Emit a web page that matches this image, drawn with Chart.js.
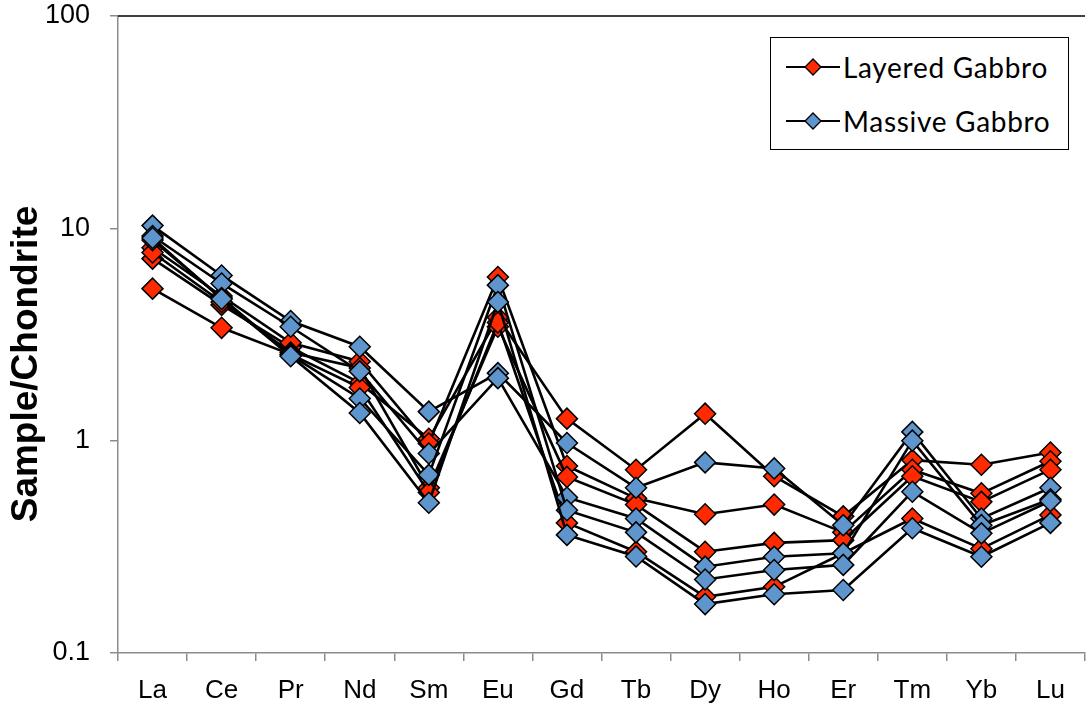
<!DOCTYPE html>
<html><head><meta charset="utf-8">
<script src="https://cdn.jsdelivr.net/npm/chart.js@4.4.1/dist/chart.umd.min.js"></script>
<style>
html,body{margin:0;padding:0;background:#fff;}
#wrap{position:relative;width:1091px;height:716px;}
#legend{position:absolute;left:770px;top:37px;width:299px;height:113px;border:1.5px solid #000;box-sizing:border-box;background:#fff;font-family:Lato,"Open Sans",sans-serif;font-size:28px;letter-spacing:0.7px;color:#000;}
.row{position:absolute;left:0;height:30px;line-height:30px;white-space:nowrap;}
.row svg{position:absolute;left:15px;top:5px;}
.row span{position:absolute;left:72px;top:0;}
</style></head>
<body>
<div id="wrap">
<canvas id="c" width="1091" height="716"></canvas>
<div id="legend">
  <div class="row" style="top:14px"><svg width="54" height="20"><line x1="0" y1="10" x2="54" y2="10" stroke="#000" stroke-width="2.2"/><polygon points="27,2 35,10 27,18 19,10" fill="#ff2a00" stroke="#000" stroke-width="1.3"/></svg><span>Layered Gabbro</span></div>
  <div class="row" style="top:68px"><svg width="54" height="20"><line x1="0" y1="10" x2="54" y2="10" stroke="#000" stroke-width="2.2"/><polygon points="27,2 35,10 27,18 19,10" fill="#5e95cc" stroke="#000" stroke-width="1.3"/></svg><span>Massive Gabbro</span></div>
</div>
</div>
<script>
const categories = ['La','Ce','Pr','Nd','Sm','Eu','Gd','Tb','Dy','Ho','Er','Tm','Yb','Lu'];
const yTickValues = [0.1, 1, 10, 100];

const layered1 = [7.2, 4.36, 2.75, 1.87, 1.02, 3.8, 1.27, 0.73, 1.34, 0.68, 0.44, 0.81, 0.77, 0.88];
const layered2 = [8.1, 4.8, 2.89, 2.36, 0.97, 5.9, 0.76, 0.535, 0.45, 0.50, 0.37, 0.73, 0.565, 0.80];
const layered3 = [7.7, 4.5, 2.6, 2.2, 0.60, 3.44, 0.675, 0.50, 0.30, 0.33, 0.34, 0.68, 0.515, 0.73];
const layered4 = [5.2, 3.4, 2.55, 1.78, 0.57, 3.6, 0.41, 0.30, 0.184, 0.205, 0.295, 0.43, 0.31, 0.447];

const massive1 = [10.3, 6.0, 3.66, 2.77, 1.37, 2.08, 0.975, 0.60, 0.79, 0.74, 0.40, 1.10, 0.43, 0.60];
const massive2 = [9.2, 5.5, 3.44, 2.12, 0.87, 1.97, 0.54, 0.43, 0.255, 0.284, 0.295, 1.0, 0.40, 0.53];
const massive3 = [8.8, 4.7, 2.53, 1.58, 0.69, 5.4, 0.47, 0.37, 0.222, 0.246, 0.26, 0.575, 0.366, 0.52];
const massive4 = [9.0, 4.65, 2.5, 1.35, 0.51, 4.5, 0.36, 0.285, 0.170, 0.189, 0.198, 0.387, 0.284, 0.41];

const RED = '#ff2a00', BLUE = '#5e95cc';
function ds(label, data, color){
  return {label, data, borderColor:'#000', borderWidth:2.6, backgroundColor:color,
    pointBackgroundColor:color, pointBorderColor:'#000', pointBorderWidth:1.5,
    pointStyle:'rectRot', pointRadius:10.5, pointHoverRadius:10.5, tension:0, fill:false, clip:false};
}
const datasets = [
  ds('Layered Gabbro', layered1, RED), ds('Layered Gabbro', layered2, RED),
  ds('Layered Gabbro', layered3, RED), ds('Layered Gabbro', layered4, RED),
  ds('Massive Gabbro', massive1, BLUE), ds('Massive Gabbro', massive2, BLUE),
  ds('Massive Gabbro', massive3, BLUE), ds('Massive Gabbro', massive4, BLUE)
];
datasets.forEach((d, i) => { d.order = datasets.length - i; });

const extras = {
  id:'extras',
  afterDraw(chart){
    const {ctx, chartArea:a} = chart;
    ctx.save();
    ctx.strokeStyle='#000'; ctx.lineWidth=1.5;
    ctx.beginPath(); ctx.moveTo(a.left, a.top); ctx.lineTo(a.right, a.top); ctx.stroke();
    ctx.translate(27, 364); ctx.rotate(-Math.PI/2);
    ctx.fillStyle='#000'; ctx.textAlign='center'; ctx.textBaseline='middle';
    ctx.font='bold 37px "Liberation Sans", Arial, sans-serif';
    ctx.fillText('Sample/Chondrite', 0, 0);
    ctx.restore();
  }
};

new Chart(document.getElementById('c'), {
  type:'line',
  data:{labels:categories, datasets},
  options:{
    responsive:false, animation:false, devicePixelRatio:1,
    layout:{autoPadding:false, padding:{left:0, top:0, right:6, bottom:0}},
    plugins:{legend:{display:false}, tooltip:{enabled:false}},
    scales:{
      x:{
        type:'category', offset:true,
        grid:{display:true, offset:true, drawOnChartArea:false, drawTicks:true, tickLength:8, color:'#8c8c8c', lineWidth:1.5},
        border:{display:true, color:'#8c8c8c', width:1.5},
        ticks:{color:'#000', padding:14, font:{family:'"Liberation Sans", Arial, sans-serif', size:26}, maxRotation:0, autoSkip:false},
        afterFit(s){ s.height = 63; }
      },
      y:{
        type:'logarithmic', min:0.1, max:100,
        afterBuildTicks(s){ s.ticks = yTickValues.map(v=>({value:v})); },
        grid:{display:true, drawOnChartArea:false, drawTicks:true, tickLength:8, color:'#8c8c8c', lineWidth:1.5},
        border:{display:true, color:'#8c8c8c', width:1.5},
        ticks:{color:'#000', padding:20, font:{family:'"Liberation Sans", Arial, sans-serif', size:27},
          callback:(v)=>String(v)},
        afterFit(s){ s.width = 118; s.paddingTop = 16; s.paddingBottom = 16; }
      }
    }
  },
  plugins:[extras]
});
</script>
</body></html>
